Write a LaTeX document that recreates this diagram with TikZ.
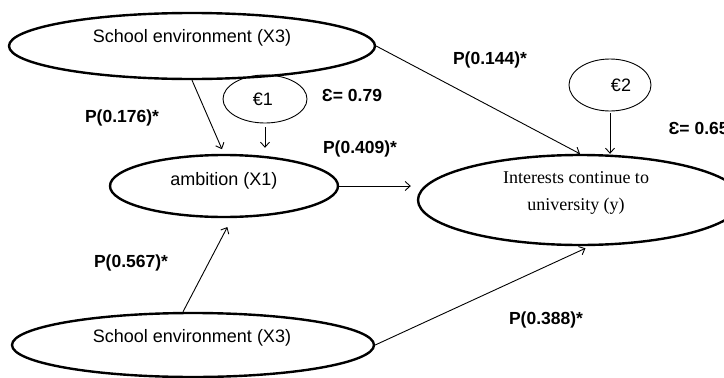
\documentclass[tikz,border=0pt]{standalone}
\usepackage{fontspec}
\setmainfont{Liberation Sans}
\newfontfamily\tnr{Liberation Serif}
\usetikzlibrary{shapes}
\usetikzlibrary{arrows.meta}

\tikzset{
  bigell/.style={ellipse, draw, line width=2.4pt, inner sep=0pt},
  errell/.style={ellipse, draw, line width=0.9pt, inner sep=0pt},
  coef/.style={font=\fontsize{17.5}{20}\selectfont\bfseries},
  link/.style={-{Straight Barb[length=5pt,width=9pt]}, line width=0.9pt}
}

\begin{document}
\begin{tikzpicture}[x=1pt, y=-1pt, font=\fontsize{18}{21}\selectfont]
        \useasboundingbox (0,0) rectangle (724,378);
        % latent variables
        \node[bigell, minimum width=366, minimum height=66] (xtop) at (192,46) {};
        \node (xtoptxt) at (192,38) {School environment (X3)};
        \node[bigell, minimum width=362, minimum height=64] (xbot) at (193,345) {};
        \node (xbottxt) at (192,338) {School environment (X3)};
        \node[bigell, minimum width=228, minimum height=62] (amb) at (224,186) {};
        \node (ambtxt) at (224,181) {ambition (X1)};
        \node[bigell, minimum width=324, minimum height=90] (int) at (580,200) {};
        \node[align=center, font=\tnr\fontsize{18}{27}\selectfont] (inttxt) at (576,193) {Interests continue to\\university (y)};
        % errors
        \node[errell, minimum width=84, minimum height=48] (e1) at (265,99) {\hspace{-4pt}€1};
        \node[errell, minimum width=82, minimum height=52] (e2) at (610,85) {\hspace{22pt}€2};
        % coefficients
        \node[coef] (eps1) at (352,95) {Ɛ= 0.79};
        \node[coef, anchor=west] (eps2) at (665,128) {Ɛ= 0.65};
        \node[coef] (p1) at (122,118) {P(0.176)*};
        \node[coef] (p2) at (360,149) {P(0.409)*};
        \node[coef] (p3) at (490,60) {P(0.144)*};
        \node[coef] (p4) at (131,263) {P(0.567)*};
        \node[coef] (p5) at (546,320) {P(0.388)*};
        % paths
        \draw[link, shorten >=5pt] (xtop.south) -- (amb.north);
        \draw[link, shorten <=4pt, shorten >=6pt] (e1.south) -- (e1.south |- amb.north);
        \draw[link, shorten >=6pt] (amb.east) -- (amb.east -| int.west);
        \draw[link] (xtop.east) -- (int.north);
        \draw[link, shorten <=2pt] (e2.south) -- (e2.south |- int.north);
        \draw[link, shorten >=10pt] ([xshift=-10pt]xbot.north) -- ([xshift=8pt]amb.south);
        \draw[link, shorten >=5pt] (xbot.east) -- ([xshift=10pt]int.south);
\end{tikzpicture}
\end{document}
